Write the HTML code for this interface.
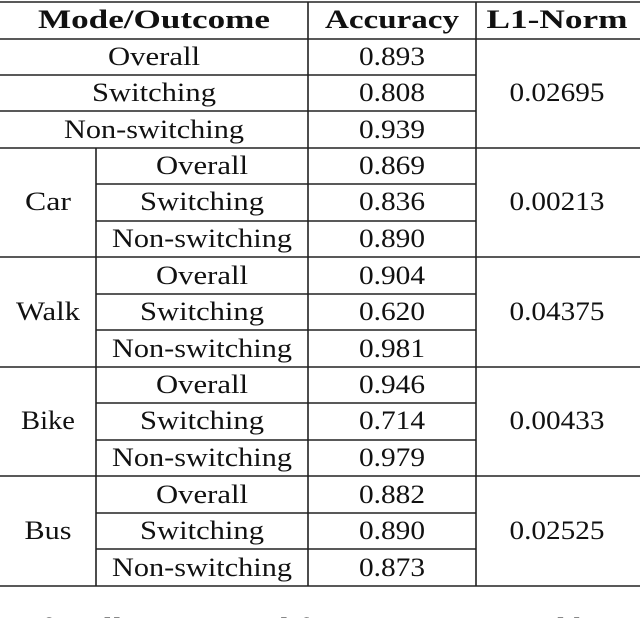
<!DOCTYPE html>
<html><head><style>html,body{margin:0;padding:0;background:#fff;}svg{display:block}
text{font-family:"Liberation Serif",serif;font-size:26px;fill:#111;text-anchor:middle}
.b{font-weight:bold}</style></head><body>
<svg width="640" height="618" viewBox="0 0 640 618">
<g stroke="#222" stroke-width="1.6">
<line x1="0" y1="2" x2="640" y2="2"/>
<line x1="0" y1="39" x2="640" y2="39"/>
<line x1="0" y1="75" x2="476" y2="75"/>
<line x1="0" y1="111" x2="476" y2="111"/>
<line x1="0" y1="148" x2="640" y2="148"/>
<line x1="96" y1="184" x2="476" y2="184"/>
<line x1="96" y1="221" x2="476" y2="221"/>
<line x1="0" y1="257" x2="640" y2="257"/>
<line x1="96" y1="294" x2="476" y2="294"/>
<line x1="96" y1="330" x2="476" y2="330"/>
<line x1="0" y1="367" x2="640" y2="367"/>
<line x1="96" y1="403" x2="476" y2="403"/>
<line x1="96" y1="440" x2="476" y2="440"/>
<line x1="0" y1="476" x2="640" y2="476"/>
<line x1="96" y1="513" x2="476" y2="513"/>
<line x1="96" y1="549" x2="476" y2="549"/>
<line x1="0" y1="586" x2="640" y2="586"/>
<line x1="96" y1="148" x2="96" y2="586"/>
<line x1="308" y1="2" x2="308" y2="586"/>
<line x1="476" y1="2" x2="476" y2="586"/>
</g>
<g style="font-size:25px" lengthAdjust="spacingAndGlyphs">
<text class="b" x="154" y="28" textLength="232" lengthAdjust="spacingAndGlyphs">Mode/Outcome</text>
<text class="b" x="392" y="28" textLength="134" lengthAdjust="spacingAndGlyphs">Accuracy</text>
<text class="b" x="557" y="28" textLength="141" lengthAdjust="spacingAndGlyphs">L1-Norm</text>
</g>
<text x="154" y="65" textLength="92" lengthAdjust="spacingAndGlyphs">Overall</text>
<text x="154" y="101" textLength="124" lengthAdjust="spacingAndGlyphs">Switching</text>
<text x="154" y="138" textLength="180" lengthAdjust="spacingAndGlyphs">Non-switching</text>
<text x="392" y="65" textLength="66" lengthAdjust="spacingAndGlyphs">0.893</text>
<text x="392" y="101" textLength="66" lengthAdjust="spacingAndGlyphs">0.808</text>
<text x="392" y="138" textLength="66" lengthAdjust="spacingAndGlyphs">0.939</text>
<text x="557" y="101" textLength="95" lengthAdjust="spacingAndGlyphs">0.02695</text>

<text x="48" y="210" textLength="46" lengthAdjust="spacingAndGlyphs">Car</text>
<text x="202" y="174" textLength="92" lengthAdjust="spacingAndGlyphs">Overall</text><text x="202" y="210" textLength="124" lengthAdjust="spacingAndGlyphs">Switching</text><text x="202" y="247" textLength="180" lengthAdjust="spacingAndGlyphs">Non-switching</text>
<text x="392" y="174" textLength="66" lengthAdjust="spacingAndGlyphs">0.869</text><text x="392" y="210" textLength="66" lengthAdjust="spacingAndGlyphs">0.836</text><text x="392" y="247" textLength="66" lengthAdjust="spacingAndGlyphs">0.890</text>
<text x="557" y="210" textLength="95" lengthAdjust="spacingAndGlyphs">0.00213</text>

<text x="48" y="320" textLength="64" lengthAdjust="spacingAndGlyphs">Walk</text>
<text x="202" y="284" textLength="92" lengthAdjust="spacingAndGlyphs">Overall</text><text x="202" y="320" textLength="124" lengthAdjust="spacingAndGlyphs">Switching</text><text x="202" y="357" textLength="180" lengthAdjust="spacingAndGlyphs">Non-switching</text>
<text x="392" y="284" textLength="66" lengthAdjust="spacingAndGlyphs">0.904</text><text x="392" y="320" textLength="66" lengthAdjust="spacingAndGlyphs">0.620</text><text x="392" y="357" textLength="66" lengthAdjust="spacingAndGlyphs">0.981</text>
<text x="557" y="320" textLength="95" lengthAdjust="spacingAndGlyphs">0.04375</text>

<text x="48" y="429" textLength="54" lengthAdjust="spacingAndGlyphs">Bike</text>
<text x="202" y="393" textLength="92" lengthAdjust="spacingAndGlyphs">Overall</text><text x="202" y="429" textLength="124" lengthAdjust="spacingAndGlyphs">Switching</text><text x="202" y="466" textLength="180" lengthAdjust="spacingAndGlyphs">Non-switching</text>
<text x="392" y="393" textLength="66" lengthAdjust="spacingAndGlyphs">0.946</text><text x="392" y="429" textLength="66" lengthAdjust="spacingAndGlyphs">0.714</text><text x="392" y="466" textLength="66" lengthAdjust="spacingAndGlyphs">0.979</text>
<text x="557" y="429" textLength="95" lengthAdjust="spacingAndGlyphs">0.00433</text>

<text x="48" y="539" textLength="47" lengthAdjust="spacingAndGlyphs">Bus</text>
<text x="202" y="503" textLength="92" lengthAdjust="spacingAndGlyphs">Overall</text><text x="202" y="539" textLength="124" lengthAdjust="spacingAndGlyphs">Switching</text><text x="202" y="576" textLength="180" lengthAdjust="spacingAndGlyphs">Non-switching</text>
<text x="392" y="503" textLength="66" lengthAdjust="spacingAndGlyphs">0.882</text><text x="392" y="539" textLength="66" lengthAdjust="spacingAndGlyphs">0.890</text><text x="392" y="576" textLength="66" lengthAdjust="spacingAndGlyphs">0.873</text>
<text x="557" y="539" textLength="95" lengthAdjust="spacingAndGlyphs">0.02525</text>

<text x="340" y="636" textLength="600" lengthAdjust="spacingAndGlyphs">for all Ipsum used for Lorem Sem and by C</text>
</svg>
</body></html>
